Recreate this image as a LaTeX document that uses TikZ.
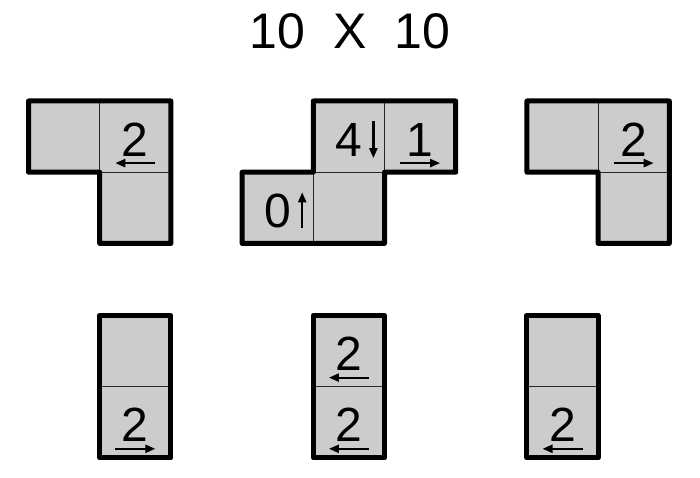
\documentclass[tikz,border=0pt]{standalone}
\usepackage{fontspec}
\setmainfont{Liberation Sans}
\usetikzlibrary{arrows.meta}

\tikzset{
  outline/.style={line width=5pt, line join=round},
  arr/.style={line width=2.2pt, -{Triangle[length=10pt,width=8pt]}}
}

\begin{document}
\begin{tikzpicture}[x=1pt,y=-1pt]
        \useasboundingbox (0,0) rectangle (700,478);
        \node[anchor=base, font=\fontsize{50}{60}\selectfont] (title) at (350,49) {10\ \ X\ \ 10};
        \begin{scope}[every node/.style={draw=black!85, line width=1.2pt, fill=black!20, minimum size=71.2pt, inner sep=0pt, outer sep=0pt}]
                \node (la) at (64.1,136.6) {};
                \node (lb) at (135.3,136.6) {};
                \node (lc) at (135.3,207.8) {};
                \node (za) at (277.7,207.8) {};
                \node (zb) at (348.9,207.8) {};
                \node (zc) at (348.9,136.6) {};
                \node (zd) at (420.1,136.6) {};
                \node (ra) at (562.5,136.6) {};
                \node (rb) at (633.7,136.6) {};
                \node (rc) at (633.7,207.8) {};
                \node (da) at (135.3,351.1) {};
                \node (db) at (135.3,422.3) {};
                \node (ea) at (348.9,351.1) {};
                \node (eb) at (348.9,422.3) {};
                \node (fa) at (562.5,351.1) {};
                \node (fb) at (562.5,422.3) {};
        \end{scope}
        \draw[outline] (la.north west) -- (lb.north east) -- (lc.south east) -- (lc.south west) -- (la.south east) -- (la.south west) -- cycle;
        \draw[outline] (za.north west) -- (zc.south west) -- (zc.north west) -- (zd.north east) -- (zd.south east) -- (zb.north east) -- (zb.south east) -- (za.south west) -- cycle;
        \draw[outline] (ra.north west) -- (rb.north east) -- (rc.south east) -- (rc.south west) -- (ra.south east) -- (ra.south west) -- cycle;
        \draw[outline] (da.north west) rectangle (db.south east);
        \draw[outline] (ea.north west) rectangle (eb.south east);
        \draw[outline] (fa.north west) rectangle (fb.south east);
        \begin{scope}[every node/.style={anchor=base, inner sep=0pt, font=\fontsize{48}{52}\selectfont}]
                \node (nlb) at ([yshift=-19.5pt]lb.center) {2};
                \node (nza) at ([yshift=-19.5pt]za.center) {0};
                \node (nzc) at ([yshift=-19.5pt]zc.center) {4};
                \node (nzd) at ([yshift=-19.5pt]zd.center) {1};
                \node (nrb) at ([yshift=-19.5pt]rb.center) {2};
                \node (ndb) at ([yshift=-19.5pt]db.center) {2};
                \node (nea) at ([yshift=-19.5pt]ea.center) {2};
                \node (neb) at ([yshift=-19.5pt]eb.center) {2};
                \node (nfb) at ([yshift=-19.5pt]fb.center) {2};
        \end{scope}
        \draw[arr] ([xshift=20pt,yshift=-7pt]nlb.base) -- ([xshift=-20pt,yshift=-7pt]nlb.base);
        \draw[arr] ([xshift=24.5pt,yshift=-1pt]nza.base) -- ([xshift=24.5pt,yshift=35pt]nza.base);
        \draw[arr] ([xshift=24.5pt,yshift=35pt]nzc.base) -- ([xshift=24.5pt,yshift=-2pt]nzc.base);
        \draw[arr] ([xshift=-20pt,yshift=-7pt]nzd.base) -- ([xshift=20pt,yshift=-7pt]nzd.base);
        \draw[arr] ([xshift=-20pt,yshift=-7pt]nrb.base) -- ([xshift=20pt,yshift=-7pt]nrb.base);
        \draw[arr] ([xshift=-20pt,yshift=-7pt]ndb.base) -- ([xshift=20pt,yshift=-7pt]ndb.base);
        \draw[arr] ([xshift=20pt,yshift=-7pt]nea.base) -- ([xshift=-20pt,yshift=-7pt]nea.base);
        \draw[arr] ([xshift=20pt,yshift=-7pt]neb.base) -- ([xshift=-20pt,yshift=-7pt]neb.base);
        \draw[arr] ([xshift=20pt,yshift=-7pt]nfb.base) -- ([xshift=-20pt,yshift=-7pt]nfb.base);
\end{tikzpicture}
\end{document}
